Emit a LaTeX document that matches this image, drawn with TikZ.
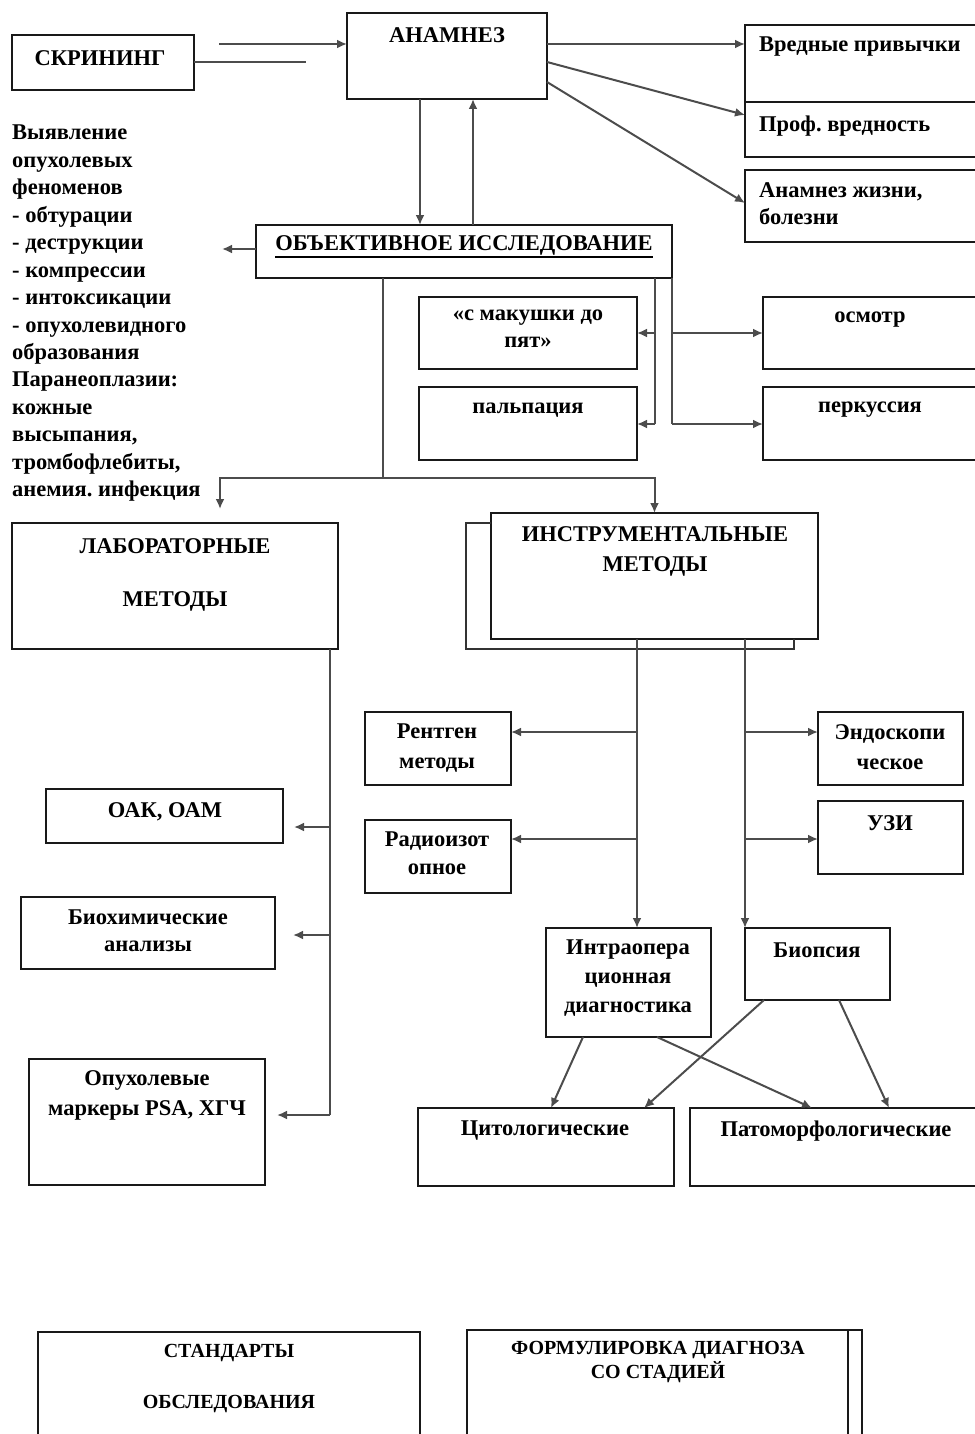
\documentclass[tikz,border=0pt]{standalone}
\usepackage{fontspec}
\setmainfont{Liberation Serif}
\usetikzlibrary{arrows.meta,calc}
\frenchspacing
\begin{document}
\begin{tikzpicture}[x=1pt,y=-1pt,
 box/.style={draw=black!90, line width=2.4pt, inner sep=0pt, outer sep=0pt, anchor=north west},
 txt/.style={font=\fontsize{22.5}{27}\selectfont\bfseries, align=center, inner sep=0pt},
 ln/.style={draw=black!70, line width=2pt},
 arr/.style={ln, -{Latex[length=10pt,width=9pt]}}]
\useasboundingbox (0,0) rectangle (974,1434);
% boxes
\node[box, minimum width=182, minimum height=55] (scr) at (12,35) {};
\node[box, minimum width=200, minimum height=86] (ana) at (347,13) {};
\node[box, minimum width=240, minimum height=77] (vp) at (745,25) {};
\node[box, minimum width=240, minimum height=55] (pv) at (745,102) {};
\node[box, minimum width=240, minimum height=72] (az) at (745,170) {};
\node[box, minimum width=416, minimum height=53] (obj) at (256,225) {};
\node[box, minimum width=218, minimum height=72] (mak) at (419,297) {};
\node[box, minimum width=218, minimum height=73] (pal) at (419,387) {};
\node[box, minimum width=230, minimum height=72] (osm) at (763,297) {};
\node[box, minimum width=230, minimum height=73] (per) at (763,387) {};
\node[box, minimum width=326, minimum height=126] (lab) at (12,523) {};
\node[box, minimum width=327, minimum height=126] (ins) at (491,513) {};
\node[box, minimum width=146, minimum height=73] (rent) at (365,712) {};
\node[box, minimum width=146, minimum height=73] (rad) at (365,820) {};
\node[box, minimum width=145, minimum height=73] (endo) at (818,712) {};
\node[box, minimum width=145, minimum height=73] (uzi) at (818,801) {};
\node[box, minimum width=237, minimum height=54] (oak) at (46,789) {};
\node[box, minimum width=254, minimum height=72] (bio) at (21,897) {};
\node[box, minimum width=236, minimum height=126] (mark) at (29,1059) {};
\node[box, minimum width=165, minimum height=109] (intra) at (546,928) {};
\node[box, minimum width=145, minimum height=72] (bx) at (745,928) {};
\node[box, minimum width=256, minimum height=78] (cyt) at (418,1108) {};
\node[box, minimum width=300, minimum height=78] (pat) at (690,1108) {};
\node[box, minimum width=382, minimum height=130] (std) at (38,1332) {};
\node[box, minimum width=395, minimum height=130] (form) at (467,1330) {};
\draw[box] ($(form.north east)+(-14,0)$) -- ($(form.south east)+(-14,0)$);
% back frame of instrumental box
\draw[line width=2pt, draw=black!80] ($(ins.north west)+(0,10)$) -- ++(-25,0) |- ($(ins.south west)+(303,10)$) -- ($(ins.south west)+(303,0)$);
% texts
\node[txt] (t-scr) at (100,58) {СКРИНИНГ};
\node[txt] (t-ana) at (447,35) {АНАМНЕЗ};
\node[txt, anchor=west] (t-vp) at (759,47) {Вредные привычки};
\node[txt, anchor=west] (t-pv) at (759,126) {Проф. вредность};
\node[txt, anchor=north west, align=left] (t-az) at (759,182) {Анамнез жизни,\\болезни};
\node[txt] (t-obj) at (464,245) {ОБЪЕКТИВНОЕ ИССЛЕДОВАНИЕ};
\draw[line width=2.6pt] ($(t-obj.base west)+(0,7)$) -- ($(t-obj.base east)+(0,7)$);
\node[txt, anchor=north] (t-mak) at (528,310) {«с макушки до\\пят»};
\node[txt] (t-pal) at (528,410) {пальпация};
\node[txt] (t-osm) at (870,320) {осмотр};
\node[txt] (t-per) at (870,410) {перкуссия};
\node[txt, anchor=north west, align=left, font=\fontsize{22.5}{27.45}\selectfont\bfseries] (t-left) at (12,125) {Выявление\\опухолевых\\феноменов\\- обтурации\\- деструкции\\- компрессии\\- интоксикации\\- опухолевидного\\образования\\Паранеоплазии:\\кожные\\высыпания,\\тромбофлебиты,\\анемия. инфекция};
\node[txt, anchor=north] (t-lab) at (175,538) {ЛАБОРАТОРНЫЕ\\[26pt]МЕТОДЫ};
\node[txt, anchor=north, font=\fontsize{22.5}{30}\selectfont\bfseries] (t-ins) at (655,526) {ИНСТРУМЕНТАЛЬНЫЕ\\МЕТОДЫ};
\node[txt, anchor=north, font=\fontsize{22.5}{30}\selectfont\bfseries] (t-rent) at (437,724) {Рентген\\методы};
\node[txt, anchor=north, font=\fontsize{22.5}{28}\selectfont\bfseries] (t-rad) at (437,832) {Радиоизот\\опное};
\node[txt, anchor=north, font=\fontsize{22.5}{30}\selectfont\bfseries] (t-endo) at (890,724) {Эндоскопи\\ческое};
\node[txt] (t-uzi) at (890,823) {УЗИ};
\node[txt] (t-oak) at (165,812) {ОАК, ОАМ};
\node[txt, anchor=north] (t-bio) at (148,910) {Биохимические\\анализы};
\node[txt, anchor=north, font=\fontsize{22.5}{30}\selectfont\bfseries] (t-mark) at (147,1070) {Опухолевые\\маркеры PSA, ХГЧ};
\node[txt, anchor=north, font=\fontsize{22.5}{29}\selectfont\bfseries] (t-intra) at (628,940) {Интраопера\\ционная\\диагностика};
\node[txt] (t-bx) at (817,950) {Биопсия};
\node[txt] (t-cyt) at (545,1131) {Цитологические};
\node[txt] (t-pat) at (836,1131) {Патоморфологические};
\node[txt, anchor=north, font=\fontsize{20}{51}\selectfont\bfseries] (t-std) at (229,1344) {СТАНДАРТЫ\\ОБСЛЕДОВАНИЯ};
\node[txt, anchor=north, font=\fontsize{20}{24}\selectfont\bfseries] (t-form) at (658,1341) {ФОРМУЛИРОВКА ДИАГНОЗА\\СО СТАДИЕЙ};
% connectors top
\coordinate (s1) at (219,44);
\coordinate (s2) at (306,62);
\draw[arr] (s1) -- (s1 -| ana.west);
\draw[ln] (s2 -| scr.east) -- (s2);
\draw[arr] (s1 -| ana.east) -- (s1 -| vp.west);
\draw[arr] ($(ana.north east)+(0,49)$) -- ($(pv.north west)+(0,13)$);
\draw[arr] ($(ana.north east)+(0,69)$) -- ($(az.north west)+(0,33)$);
\draw[arr] ($(ana.south west)+(73,0)$) -- ($(obj.north west)+(164,0)$);
\draw[arr] ($(obj.north west)+(217,0)$) -- ($(ana.south west)+(126,0)$);
\coordinate (lt) at (222,249);
\draw[arr] (lt -| obj.west) -- (lt);
% objective -> lab / instr
\coordinate (j) at (383,478);
\coordinate (la) at (220,509);
\draw[ln] ($(obj.south west)+(127,0)$) -- (j);
\draw[arr] (j) -| (la);
\draw[arr] (j) -| (ins.north);
% objective -> sub exams
\coordinate (m1) at (655,333);
\coordinate (m2) at (655,424);
\draw[ln] ($(obj.south west)+(399,0)$) -- (m2);
\draw[arr] (m1) -- (m1 -| mak.east);
\draw[arr] (m2) -- (m2 -| pal.east);
\coordinate (o1) at (672,333);
\coordinate (o2) at (672,424);
\draw[ln] (obj.south east) -- (o2);
\draw[arr] (o1) -- (o1 -| osm.west);
\draw[arr] (o2) -- (o2 -| per.west);
% lab branches
\coordinate (l1) at (330,827);
\coordinate (l2) at (330,935);
\coordinate (l3) at (330,1115);
\coordinate (l1e) at (294,827);
\coordinate (l2e) at (293,935);
\coordinate (l3e) at (277,1115);
\draw[ln] ($(lab.south west)+(318,0)$) -- (l3);
\draw[arr] (l1) -- (l1e);
\draw[arr] (l2) -- (l2e);
\draw[arr] (l3) -- (l3e);
% instrumental branches
\draw[arr] ($(ins.south west)+(146,0)$) -- ($(intra.north west)+(91,0)$);
\draw[arr] ($(ins.south west)+(254,0)$) -- (bx.north west);
\coordinate (i1) at (637,732);
\coordinate (i2) at (637,839);
\coordinate (i3) at (745,732);
\coordinate (i4) at (745,839);
\draw[arr] (i1) -- (i1 -| rent.east);
\draw[arr] (i2) -- (i2 -| rad.east);
\draw[arr] (i3) -- (i3 -| endo.west);
\draw[arr] (i4) -- (i4 -| uzi.west);
% bottom diagonals
\draw[arr] ($(intra.south west)+(37,0)$) -- ($(cyt.north west)+(133,0)$);
\draw[arr] ($(intra.south west)+(111,0)$) -- ($(pat.north west)+(122,0)$);
\draw[arr] ($(bx.south west)+(19,0)$) -- ($(cyt.north west)+(226,0)$);
\draw[arr] ($(bx.south west)+(94,0)$) -- ($(pat.north west)+(199,0)$);
\end{tikzpicture}
\end{document}
